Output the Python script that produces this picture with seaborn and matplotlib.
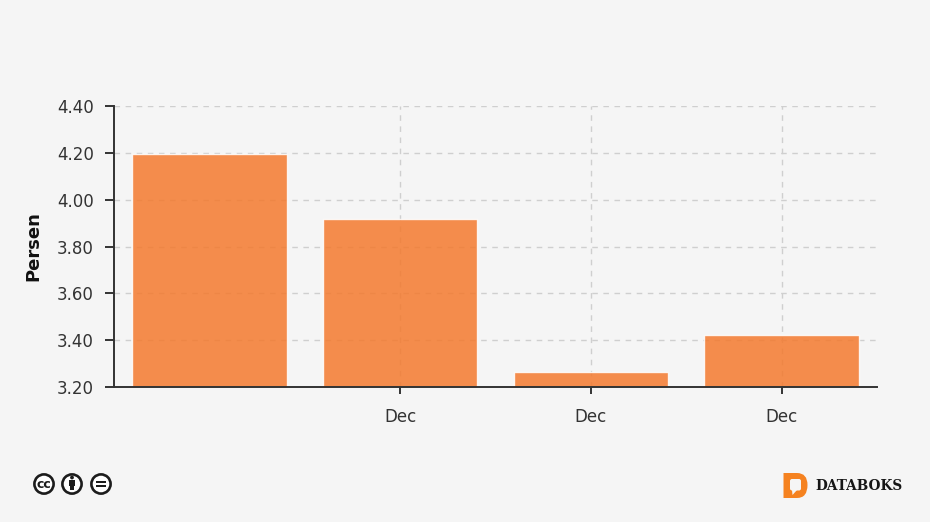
import matplotlib
matplotlib.use("Agg")
import matplotlib.pyplot as plt
import seaborn as sns
import pandas as pd
from matplotlib.patches import Circle, FancyBboxPatch, Polygon, Rectangle, PathPatch
from matplotlib.path import Path

periods = ["Periode 1", "Periode 2", "Periode 3", "Periode 4"]
values = [4.193, 3.917, 3.262, 3.422]
tick_labels = ["Dec", "Dec", "Dec"]
y_ticks = [3.2, 3.4, 3.6, 3.8, 4.0, 4.2, 4.4]
y_label = "Persen"

W, H = 930, 522
BG = "#f5f5f5"
sns.set_theme(style="white", rc={"figure.facecolor": BG, "axes.facecolor": BG})
plt.rcParams["font.family"] = ["DejaVu Sans"]

fig = plt.figure(figsize=(W / 100, H / 100), dpi=100, facecolor=BG)
ax = fig.add_axes([114 / W, 1 - 387 / H, (877 - 114) / W, (387 - 106) / H])

df = pd.DataFrame({"period": periods, "value": values})
ax.set_axisbelow(True)
sns.barplot(data=df, x="period", y="value", color="#f47a2e", saturation=1, alpha=0.85,
            width=0.81, ax=ax)

ax.set_ylim(y_ticks[0], y_ticks[-1])
ax.set_xlim(-0.5, 3.5)
ax.set_yticks(y_ticks)
ax.set_yticklabels([f"{v:.2f}" for v in y_ticks])
ax.set_xticks([1, 2, 3])
ax.set_xticklabels(tick_labels)
ax.set_xlabel("")
ax.set_ylabel(y_label, fontsize=13, fontweight="bold", color="#111111", labelpad=10.5)

ax.grid(True, axis="both", color="#cfcfcf", linestyle=(0, (4, 4)), linewidth=1.0)
for s in ["top", "right"]:
    ax.spines[s].set_visible(False)
for s in ["left", "bottom"]:
    ax.spines[s].set_color("#333333")
    ax.spines[s].set_linewidth(1.4)
ax.tick_params(axis="y", length=6.5, width=1.4, color="#333333", labelsize=12,
               labelcolor="#333333", pad=8, left=True)
ax.tick_params(axis="x", length=5, width=1.4, color="#333333", labelsize=12,
               labelcolor="#333333", pad=10, bottom=True)

# overlay in pixel coordinates for the footer badges and logo
ov = fig.add_axes([0, 0, 1, 1], facecolor="none")
ov.set_xlim(0, W)
ov.set_ylim(H, 0)
ov.axis("off")
ink = "#1c1c1c"
for cx in (44, 72, 101):
    ov.add_patch(Circle((cx, 484), 9.6, fc="white", ec=ink, lw=1.9))
ov.text(44, 484.0, "cc", ha="center", va="center", fontsize=9, fontweight="bold", color=ink)
ov.add_patch(Circle((72, 477.5), 1.9, fc=ink, ec="none"))
ov.add_patch(Rectangle((69.3, 480), 5.4, 5.5, fc=ink, ec="none"))
ov.add_patch(Rectangle((70.4, 485), 3.2, 5, fc=ink, ec="none"))
ov.add_patch(Rectangle((96, 480.8), 10, 2.2, fc=ink, ec="none"))
ov.add_patch(Rectangle((96, 485), 10, 2.2, fc=ink, ec="none"))

orange = "#f58220"
logo = Path(
    [(783.5, 473), (797, 473), (807.5, 473), (807.5, 485), (807.5, 498), (797, 498), (783.5, 498), (783.5, 473)],
    [Path.MOVETO, Path.LINETO, Path.CURVE3, Path.LINETO, Path.CURVE3, Path.LINETO, Path.LINETO, Path.CLOSEPOLY],
)
ov.add_patch(PathPatch(logo, fc=orange, ec="none"))
ov.add_patch(FancyBboxPatch((790, 479), 11, 11.5, boxstyle="round,pad=0,rounding_size=2", fc=BG, ec="none"))
ov.add_patch(Polygon([(792, 490), (797, 490), (792.5, 495)], closed=True, fc=BG, ec="none"))
ov.text(815, 486, "DATABOKS", ha="left", va="center", fontsize=9.8, fontweight="bold",
        family="DejaVu Serif", color="#161616")

fig.savefig("out.png", dpi=100, facecolor=BG)
